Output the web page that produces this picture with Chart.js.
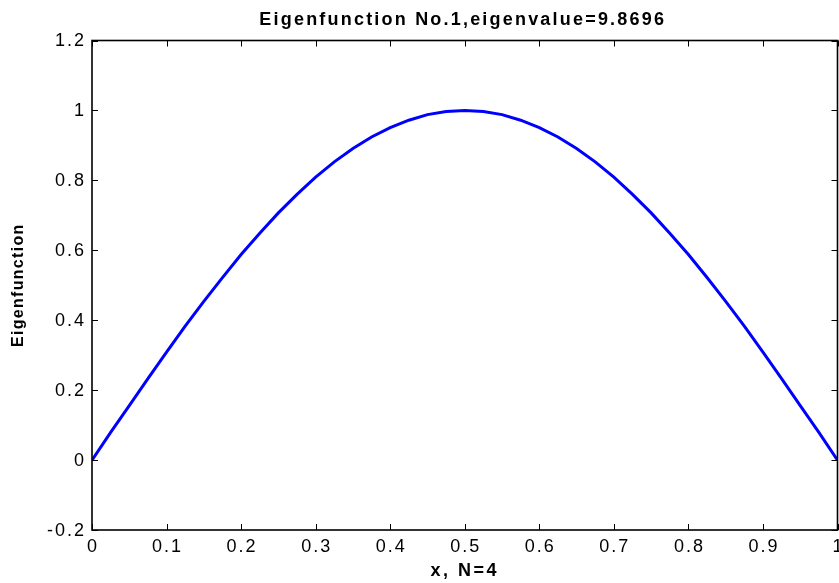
<!DOCTYPE html>
<html>
<head>
<meta charset="utf-8">
<script src="https://cdn.jsdelivr.net/npm/chart.js@4"></script>
<style>
html, body { margin: 0; padding: 0; background: #fff; }
</style>
</head>
<body>
<canvas id="eigen_plot" width="839" height="583"></canvas>
<script>
// values
var xValues = [0, 0.025, 0.05, 0.075, 0.1, 0.125, 0.15, 0.175, 0.2, 0.225,
               0.25, 0.275, 0.3, 0.325, 0.35, 0.375, 0.4, 0.425, 0.45, 0.475,
               0.5, 0.525, 0.55, 0.575, 0.6, 0.625, 0.65, 0.675, 0.7, 0.725,
               0.75, 0.775, 0.8, 0.825, 0.85, 0.875, 0.9, 0.925, 0.95, 0.975, 1];
var yValues = [0, 0.079, 0.156, 0.233, 0.309, 0.383, 0.454, 0.522, 0.588, 0.649,
               0.707, 0.760, 0.809, 0.853, 0.891, 0.924, 0.951, 0.972, 0.988, 0.997,
               1.000, 0.997, 0.988, 0.972, 0.951, 0.924, 0.891, 0.853, 0.809, 0.760,
               0.707, 0.649, 0.588, 0.522, 0.454, 0.383, 0.309, 0.233, 0.156, 0.079, 0];

var xTicks = [0, 0.1, 0.2, 0.3, 0.4, 0.5, 0.6, 0.7, 0.8, 0.9, 1];
var xTickLabels = ["0", "0.1", "0.2", "0.3", "0.4", "0.5", "0.6", "0.7", "0.8", "0.9", "1"];
var yTicks = [-0.2, 0, 0.2, 0.4, 0.6, 0.8, 1, 1.2];
var yTickLabels = ["-0.2", "0", "0.2", "0.4", "0.6", "0.8", "1", "1.2"];

var titleText = "Eigenfunction No.1,eigenvalue=9.8696";
var xLabel = "x, N=4";
var yLabel = "Eigenfunction";

var points = xValues.map(function(x, i){ return {x: x, y: yValues[i]}; });

// matlab style box, inward ticks and text
var matlabAxes = {
    id: "matlabAxes",
    afterDatasetsDraw: function(chart){
        var ctx = chart.ctx, a = chart.chartArea;
        var xs = chart.scales.x, ys = chart.scales.y;
        var tick = 6;
        ctx.save();
        ctx.strokeStyle = "#000";
        ctx.lineWidth = 1;
        ctx.beginPath();
        xTicks.forEach(function(v){
            var px = Math.round(xs.getPixelForValue(v)) + 0.5;
            ctx.moveTo(px, a.bottom); ctx.lineTo(px, a.bottom - tick);
            ctx.moveTo(px, a.top); ctx.lineTo(px, a.top + tick);
        });
        yTicks.forEach(function(v){
            var py = Math.round(ys.getPixelForValue(v)) + 0.5;
            ctx.moveTo(a.left, py); ctx.lineTo(a.left + tick, py);
            ctx.moveTo(a.right, py); ctx.lineTo(a.right - tick, py);
        });
        ctx.stroke();
        ctx.lineWidth = 1.6;
        ctx.strokeRect(a.left, a.top, a.right - a.left, a.bottom - a.top);

        ctx.fillStyle = "#000";
        ctx.font = "18px 'Liberation Sans', Arial, sans-serif";
        ctx.letterSpacing = "2px";
        ctx.textBaseline = "middle";
        ctx.textAlign = "center";
        xTicks.forEach(function(v, i){
            ctx.fillText(xTickLabels[i], xs.getPixelForValue(v) + 1, a.bottom + 17);
        });
        ctx.textAlign = "right";
        yTicks.forEach(function(v, i){
            ctx.fillText(yTickLabels[i], a.left - 6, ys.getPixelForValue(v) + 1);
        });

        var mid = (a.left + a.right) / 2;
        ctx.textAlign = "center";
        ctx.font = "bold 18px 'Liberation Sans', Arial, sans-serif";
        ctx.letterSpacing = "2.2px";
        ctx.fillText(titleText, mid - 2, 20);
        ctx.letterSpacing = "2.5px";
        ctx.fillText(xLabel, mid, a.bottom + 41);

        ctx.font = "bold 16px 'Liberation Sans', Arial, sans-serif";
        ctx.letterSpacing = "1.3px";
        ctx.translate(19, (a.top + a.bottom) / 2);
        ctx.rotate(-Math.PI / 2);
        ctx.fillText(yLabel, 0, 0);
        ctx.restore();
    }
};

var eigenChart = {
    type: "line",
    data: {
        datasets: [{
            data: points,
            borderColor: "#0000ff",
            borderWidth: 3,
            pointRadius: 0,
            tension: 0,
            fill: false
        }]
    },
    options: {
        responsive: false,
        animation: false,
        layout: { padding: { left: 92, top: 40.5, right: 1.5, bottom: 53 } },
        plugins: { legend: { display: false }, tooltip: { enabled: false } },
        scales: {
            x: { type: "linear", min: 0, max: 1, display: false },
            y: { type: "linear", min: -0.2, max: 1.2, display: false }
        }
    },
    plugins: [matlabAxes]
};

window.onload = function(){
    window.myPlot = new Chart(document.getElementById("eigen_plot").getContext("2d"), eigenChart);
};
</script>
</body>
</html>
